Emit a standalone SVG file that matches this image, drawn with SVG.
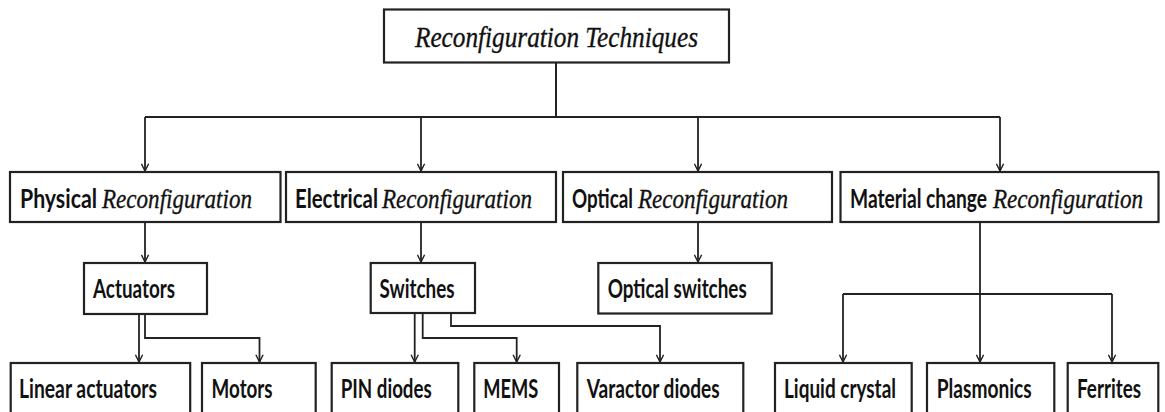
<svg xmlns="http://www.w3.org/2000/svg" width="1165" height="412" viewBox="0 0 1165 412">
<defs>
<style>
.box{fill:#fff;stroke:#222;stroke-width:2.2}
.up{font-family:Lato,"Open Sans","Liberation Sans",sans-serif;font-weight:bold;font-size:26.5px;fill:#111}
.it{font-family:"Liberation Serif","DejaVu Serif",serif;font-style:italic;font-size:28px;fill:#111;stroke:#111;stroke-width:0.35}
.ln{fill:none;stroke:#222;stroke-width:1.8}
</style>
<marker id="ah" viewBox="0 0 10 10" refX="9" refY="5" markerWidth="9" markerHeight="9" markerUnits="userSpaceOnUse" orient="auto">
<path d="M1,1 L9,5 L1,9" fill="none" stroke="#222" stroke-width="1.6"/>
</marker>
</defs>
<rect width="1165" height="412" fill="#fff"/>
<g id="connectors">
<path class="ln" d="M556,63 V117" style="stroke-width:2"/>
<path class="ln" d="M145,117 H1000" style="stroke-width:2"/>
<path class="ln" d="M145,117 V171" marker-end="url(#ah)"/>
<path class="ln" d="M421,117 V171" marker-end="url(#ah)"/>
<path class="ln" d="M698,117 V171" marker-end="url(#ah)"/>
<path class="ln" d="M1000,117 V171" marker-end="url(#ah)"/>
<path class="ln" d="M145,222 V262" marker-end="url(#ah)"/>
<path class="ln" d="M421,222 V262" marker-end="url(#ah)"/>
<path class="ln" d="M698,222 V262" marker-end="url(#ah)"/>
<path class="ln" d="M139,314 V362" marker-end="url(#ah)"/>
<path class="ln" d="M145,314 V338 H259.5 V362" marker-end="url(#ah)"/>
<path class="ln" d="M414.7,313 V362" marker-end="url(#ah)"/>
<path class="ln" d="M422.7,313 V338 H516.7 V362" marker-end="url(#ah)"/>
<path class="ln" d="M451,313 V326 H660 V362" marker-end="url(#ah)"/>
<path class="ln" d="M980,222 V362" marker-end="url(#ah)"/>
<path class="ln" d="M843,294 H1112" style="stroke-width:2"/>
<path class="ln" d="M843,294 V362" marker-end="url(#ah)"/>
<path class="ln" d="M1112,294 V362" marker-end="url(#ah)"/>
</g>
<g id="n-root">
<rect class="box" x="384" y="9.5" width="345" height="53"/>
<text class="it" x="415" y="47" textLength="283" lengthAdjust="spacingAndGlyphs" style="font-size:30px">Reconfiguration Techniques</text>
</g>
<g id="n-physical">
<rect class="box" x="10" y="172" width="270.5" height="50"/>
<text x="20" y="208"><tspan class="up" x="20" textLength="77" lengthAdjust="spacingAndGlyphs">Physical</tspan><tspan class="it" x="102" textLength="150" lengthAdjust="spacingAndGlyphs">Reconfiguration</tspan></text>
</g>
<g id="n-electrical">
<rect class="box" x="286" y="172" width="270" height="50"/>
<text x="295" y="208"><tspan class="up" x="295" textLength="83" lengthAdjust="spacingAndGlyphs">Electrical</tspan><tspan class="it" x="382" textLength="150" lengthAdjust="spacingAndGlyphs">Reconfiguration</tspan></text>
</g>
<g id="n-optical">
<rect class="box" x="563" y="172" width="269" height="50"/>
<text x="572" y="208"><tspan class="up" x="572" textLength="61" lengthAdjust="spacingAndGlyphs">Optical</tspan><tspan class="it" x="638" textLength="150" lengthAdjust="spacingAndGlyphs">Reconfiguration</tspan></text>
</g>
<g id="n-material">
<rect class="box" x="840.5" y="172" width="318" height="50"/>
<text x="850" y="208"><tspan class="up" x="850" textLength="137" lengthAdjust="spacingAndGlyphs">Material change</tspan><tspan class="it" x="993" textLength="150" lengthAdjust="spacingAndGlyphs">Reconfiguration</tspan></text>
</g>
<g id="n-actuators">
<rect class="box" x="84" y="263" width="123" height="51"/>
<text class="up" x="93" y="297.5" textLength="82" lengthAdjust="spacingAndGlyphs">Actuators</text>
</g>
<g id="n-switches">
<rect class="box" x="370.7" y="263" width="104.3" height="50"/>
<text class="up" x="379.5" y="297.5" textLength="75" lengthAdjust="spacingAndGlyphs">Switches</text>
</g>
<g id="n-optswitches">
<rect class="box" x="598.3" y="263" width="173.4" height="50.5"/>
<text class="up" x="607.7" y="298" textLength="139" lengthAdjust="spacingAndGlyphs">Optical switches</text>
</g>
<g id="n-linear">
<rect class="box" x="10.7" y="363" width="179.5" height="60"/>
<text class="up" x="19" y="398" textLength="138" lengthAdjust="spacingAndGlyphs">Linear actuators</text>
</g>
<g id="n-motors">
<rect class="box" x="202" y="363" width="113.7" height="60"/>
<text class="up" x="211.6" y="398" textLength="61" lengthAdjust="spacingAndGlyphs">Motors</text>
</g>
<g id="n-pin">
<rect class="box" x="331.7" y="363" width="126.6" height="60"/>
<text class="up" x="340.7" y="398" textLength="91" lengthAdjust="spacingAndGlyphs">PIN diodes</text>
</g>
<g id="n-mems">
<rect class="box" x="474.3" y="363" width="84.7" height="60"/>
<text class="up" x="483.3" y="398" textLength="55" lengthAdjust="spacingAndGlyphs">MEMS</text>
</g>
<g id="n-varactor">
<rect class="box" x="577.3" y="363" width="166" height="60"/>
<text class="up" x="586.7" y="398" textLength="133" lengthAdjust="spacingAndGlyphs">Varactor diodes</text>
</g>
<g id="n-liquid">
<rect class="box" x="775" y="363" width="136.7" height="60"/>
<text class="up" x="784" y="398" textLength="112" lengthAdjust="spacingAndGlyphs">Liquid crystal</text>
</g>
<g id="n-plasmonics">
<rect class="box" x="927" y="363" width="127.3" height="60"/>
<text class="up" x="936.7" y="398" textLength="95" lengthAdjust="spacingAndGlyphs">Plasmonics</text>
</g>
<g id="n-ferrites">
<rect class="box" x="1067.7" y="363" width="90.6" height="60"/>
<text class="up" x="1077" y="398" textLength="64" lengthAdjust="spacingAndGlyphs">Ferrites</text>
</g>
</svg>
